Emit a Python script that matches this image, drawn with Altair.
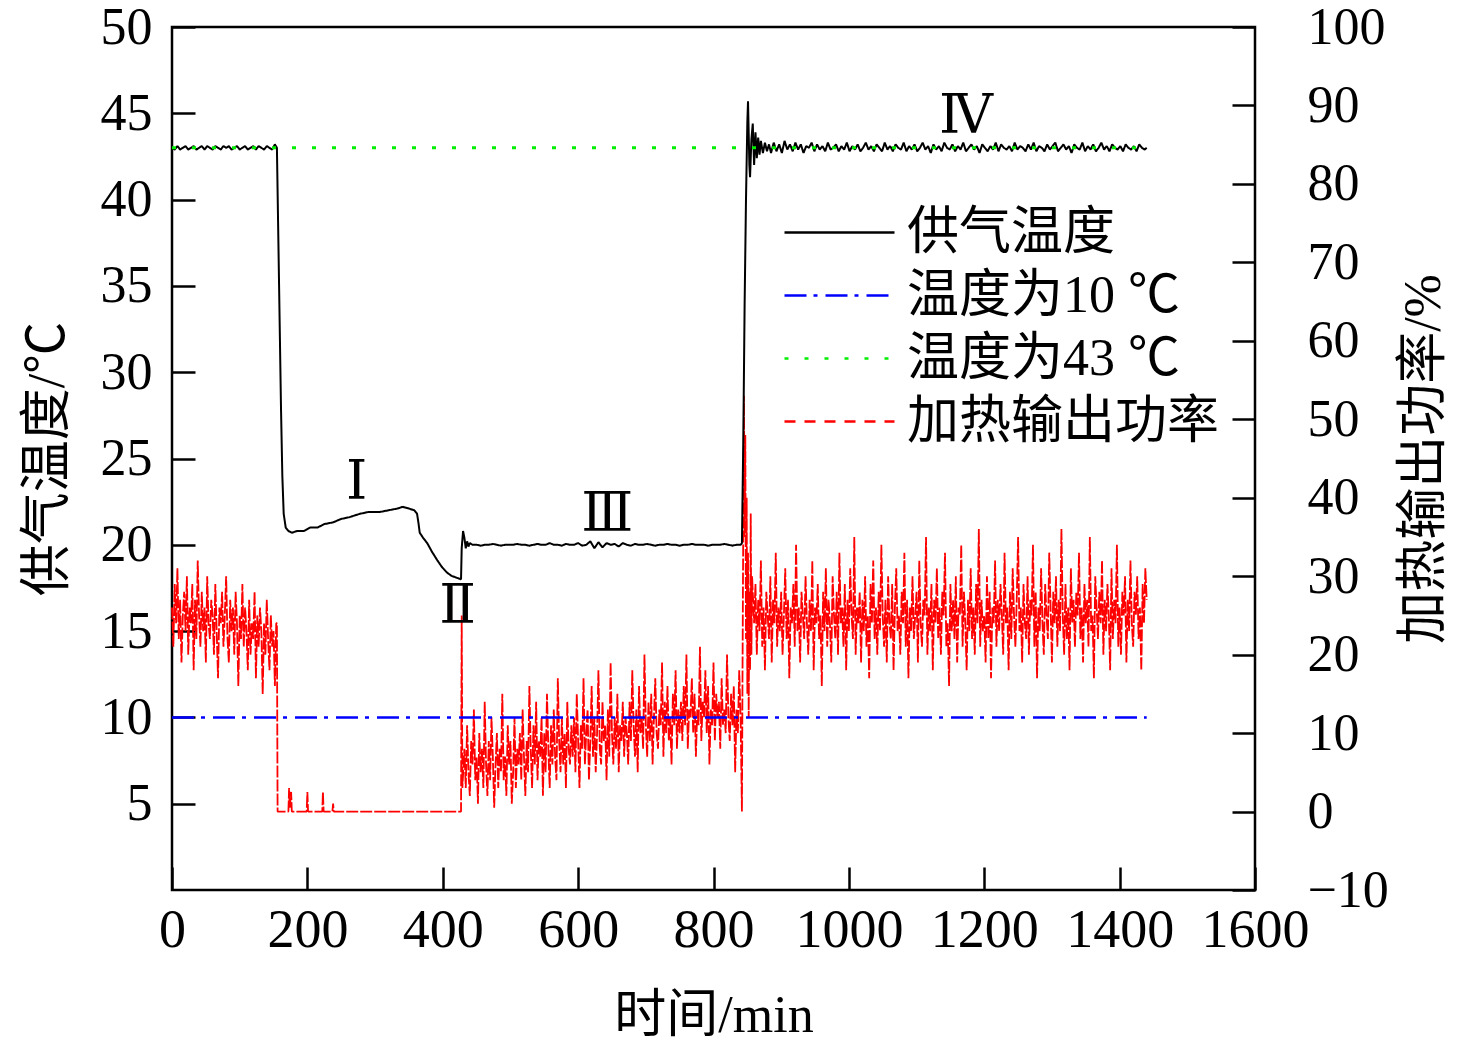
import altair as alt
import pandas as pd

FONT = "Liberation Serif, Noto Sans CJK SC"
ROMAN_FONT = "Liberation Serif, DejaVu Serif"

series_names = ["供气温度", "温度为10 ℃", "温度为43 ℃", "加热输出功率"]
series_colors = ["#000000", "#0000ff", "#00ee00", "#ff0000"]
legend_dashes = [[1, 0], [22, 7, 4, 8], [4, 16], [11, 9]]

x_ticks = [0, 200, 400, 600, 800, 1000, 1200, 1400, 1600]
left_ticks = [5, 10, 15, 20, 25, 30, 35, 40, 45, 50]
right_ticks = [-10, 0, 10, 20, 30, 40, 50, 60, 70, 80, 90, 100]

# ---------------- supply air temperature (left axis, °C) ----------------
temp_a_times = list(range(0, 153, 4))
temp_a = [43.0, 42.9, 43.1, 42.9, 43.0, 43.1, 42.9, 43.0, 43.1, 42.9,
          43.0, 43.1, 42.9, 43.1, 43.0, 42.9, 43.1, 43.0, 42.9, 43.1,
          43.0, 43.1, 42.9, 43.0, 43.1, 42.9, 43.0, 43.1, 42.9, 43.0,
          43.1, 42.9, 43.1, 43.0, 42.9, 43.1, 43.0, 42.9, 43.2]

temp_b_times = [155, 157, 159, 161, 163, 165, 168, 172, 177, 185, 195, 204, 215,
                225, 238, 250, 262, 278, 290, 307, 320, 333, 341, 350, 358, 362,
                364, 366, 371, 377, 384, 392, 399, 406, 413, 420, 427, 428, 430,
                432, 434, 436, 438, 440]
temp_b = [43.0, 38.0, 33.0, 28.0, 24.0, 21.8, 21.0, 20.8, 20.7, 20.8, 20.8, 21.0, 21.0,
          21.2, 21.3, 21.5, 21.6, 21.8, 21.9, 21.9, 22.0, 22.1, 22.2, 22.1, 22.0, 21.8,
          21.3, 20.7, 20.4, 20.1, 19.6, 19.1, 18.7, 18.4, 18.2, 18.1, 18.0, 19.8, 20.8,
          20.4, 19.8, 20.2, 19.9, 20.1]

temp_c_times = list(range(444, 841, 6))
temp_c = [20.0, 20.0, 19.95, 20.0, 20.0, 20.05, 20.0, 19.95, 20.0, 20.0,
          20.0, 20.05, 20.0, 20.0, 19.95, 20.0, 20.05, 20.0, 20.0, 20.1,
          20.0, 20.0, 19.95, 20.05, 20.0, 20.0, 20.1, 19.95, 20.0, 20.2,
          19.8, 20.15, 19.85, 20.1, 20.0, 20.05, 19.9, 20.1, 20.0, 19.95,
          20.05, 20.0, 20.0, 20.05, 20.0, 19.95, 20.0, 20.0, 20.05, 20.0,
          20.0, 19.95, 20.0, 20.0, 20.05, 20.0, 20.0, 20.0, 19.95, 20.0,
          20.0, 20.0, 20.05, 20.0, 19.95, 20.0, 20.0]

temp_d_times = [842, 844, 846, 848, 850, 851, 853, 854, 856, 858, 860, 862, 864,
                866, 868, 870, 873, 876, 879, 882]
temp_d = [20.1, 26.0, 34.0, 40.0, 44.5, 45.7, 42.0, 41.3, 43.5, 44.4, 42.0, 43.9, 42.4,
          43.6, 42.6, 43.4, 42.7, 43.3, 42.8, 43.2]

temp_e_times = list(range(885, 1438, 4)) + [1440]
temp_e = [42.7, 43.3, 42.8, 43.2, 42.7, 43.4, 42.9, 43.2, 42.8, 43.3,
          42.9, 43.2, 42.7, 43.1, 43.0, 43.3, 42.8, 43.2, 42.9, 43.1,
          42.8, 43.3, 42.9, 43.0, 43.2, 42.8, 43.1, 42.9, 43.3, 42.8,
          43.1, 42.9, 43.2, 42.8, 43.0, 43.3, 42.9, 43.1, 42.8, 43.2,
          43.0, 42.8, 43.3, 42.9, 43.1, 42.8, 43.2, 43.0, 42.9, 43.3,
          42.8, 43.1, 42.9, 43.2, 42.8, 43.0, 43.3, 42.9, 43.1, 42.7,
          43.2, 42.9, 43.1, 42.8, 43.3, 43.0, 42.9, 43.2, 42.8, 43.1,
          42.9, 43.3, 42.8, 43.0, 43.2, 42.9, 43.1, 42.7, 43.2, 43.0,
          42.8, 43.1, 42.9, 43.3, 42.8, 43.2, 43.0, 42.9, 43.1, 42.8,
          43.3, 42.9, 43.1, 43.0, 42.8, 43.2, 42.9, 43.3, 42.8, 43.1,
          43.0, 42.8, 43.2, 42.9, 43.1, 43.3, 42.8, 43.0, 43.2, 42.9,
          43.1, 42.7, 43.2, 43.0, 42.9, 43.3, 42.8, 43.1, 42.9, 43.2,
          42.8, 43.0, 43.3, 42.9, 43.1, 42.8, 43.2, 43.0, 42.9, 43.1,
          42.8, 43.2, 43.0, 42.9, 43.1, 42.8, 43.2, 43.0, 42.9, 43.0]

# ---------------- heating output power (right axis, %) ----------------
power_a_times = list(range(0, 155, 2))
power_a = [26, 21, 29, 24, 31, 22, 27, 19, 25, 28, 23, 30, 20, 26, 24, 29, 18, 27, 22, 32,
           25, 21, 28, 23, 26, 19, 30, 24, 22, 27, 25, 20, 29, 23, 17, 26, 24, 28, 21, 25,
           30, 22, 19, 27, 23, 26, 20, 28, 24, 16, 25, 22, 29, 21, 26, 23, 18, 27, 20, 24,
           22, 28, 17, 25, 21, 26, 23, 15, 24, 20, 27, 22, 18, 25, 21, 23, 16, 24]

power_b_times = [155, 156, 172, 173, 174, 176, 177, 199, 200, 201, 222, 223, 224,
                 237, 238, 239, 427, 428, 429]
power_b = [24, 0, 0, 3, 0.5, 2.5, 0, 0, 2.5, 0, 0, 2.5, 0,
           0, 1, 0, 0, 25, 3]

power_c_times = list(range(432, 841, 2))
power_c = [8, 3, 11, 5, 2, 9, 6, 13, 4, 7, 1, 10, 5, 8, 3, 14, 6, 2, 9, 4,
           12, 7, 0.5, 6, 10, 3, 8, 5, 15, 4, 7, 2, 11, 6, 9, 1, 5, 12, 3, 8,
           6, 10, 4, 13, 7, 2, 9, 5, 16, 8, 3, 11, 6, 14, 4, 9, 7, 12, 2, 10,
           5, 15, 8, 3, 11, 6, 13, 7, 4, 17, 9, 5, 12, 6, 10, 3, 14, 8, 6, 11,
           7, 12, 5, 15, 9, 3, 11, 8, 17, 6, 10, 13, 4, 9, 16, 7, 12, 5, 10, 18,
           8, 6, 14, 9, 11, 4, 13, 7, 19, 10, 6, 12, 8, 15, 5, 11, 9, 14, 7, 12,
           10, 6, 14, 9, 18, 11, 7, 13, 5, 16, 10, 12, 8, 20, 11, 7, 14, 9, 15, 6,
           12, 17, 10, 8, 13, 11, 19, 7, 14, 10, 16, 9, 12, 6, 15, 11, 18, 8, 13, 10,
           14, 9, 16, 11, 20, 8, 13, 12, 17, 10, 15, 7, 13, 11, 21, 9, 14, 12, 18, 10,
           16, 6, 13, 11, 19, 9, 15, 12, 14, 8, 17, 11, 13, 10, 20, 12, 9, 15, 11, 16,
           5, 13, 10, 18, 12]

power_d_times = [842, 843, 845, 846, 847, 848, 849, 850, 851, 852, 853, 854, 855, 856, 857]
power_d = [0, 20, 53, 35, 48, 22, 40, 15, 33, 12, 28, 18, 38, 20, 30]

power_e_times = list(range(860, 1441, 2))
power_e = [24, 29, 20, 27, 23, 32, 21, 26, 18, 28, 25, 22, 30, 19, 27, 24, 33, 21, 26, 23,
           28, 20, 25, 31, 22, 27, 17, 26, 24, 29, 21, 34, 23, 26, 19, 28, 25, 22, 30, 24,
           20, 27, 23, 32, 18, 26, 24, 29, 22, 25, 16, 28, 23, 31, 21, 27, 24, 19, 30, 25,
           22, 28, 20, 33, 24, 26, 21, 29, 18, 27, 23, 31, 25, 22, 35, 20, 26, 24, 28, 19,
           27, 23, 30, 21, 25, 17, 29, 24, 32, 22, 26, 20, 28, 23, 34, 25, 21, 27, 19, 30,
           24, 22, 29, 18, 26, 31, 23, 25, 20, 28, 24, 33, 21, 27, 17, 26, 23, 30, 22, 25,
           28, 19, 32, 24, 21, 27, 25, 35, 20, 26, 23, 29, 18, 27, 24, 31, 22, 26, 20, 28,
           25, 33, 21, 24, 16, 29, 23, 27, 22, 30, 19, 26, 25, 34, 21, 28, 24, 18, 27, 23,
           31, 22, 26, 20, 29, 24, 36, 21, 27, 23, 25, 19, 30, 22, 28, 17, 26, 24, 32, 21,
           27, 23, 29, 25, 20, 33, 24, 26, 18, 28, 22, 31, 25, 21, 27, 35, 23, 26, 19, 29,
           24, 22, 30, 20, 27, 25, 34, 21, 28, 17, 26, 23, 31, 24, 20, 29, 25, 22, 33, 26,
           19, 28, 24, 30, 21, 27, 23, 36, 25, 20, 29, 22, 26, 18, 31, 24, 27, 21, 28, 25,
           33, 22, 26, 19, 29, 24, 27, 21, 35, 23, 25, 17, 30, 26, 22, 28, 24, 32, 20, 27,
           23, 29, 25, 18, 31, 22, 27, 24, 34, 21, 26, 20, 28, 25, 30, 19, 27, 23, 32, 24,
           21, 28, 25, 30, 22, 26, 18, 29, 24, 31, 27]

# reference lines
ref_times = [0, 1440]
ref10 = [10, 10]
ref43 = [43, 43]

# stage labels
stage_labels = ["Ⅰ", "Ⅱ", "Ⅲ", "Ⅳ"]
stage_t = [273, 422, 643, 1173]
stage_v = [23.6, 16.4, 21.7, 44.8]


def pairs(times, vals):
    n = min(len(times), len(vals))
    return list(zip(times[:n], vals[:n]))


temp_pts = (pairs(temp_a_times, temp_a) + pairs(temp_b_times, temp_b) +
            pairs(temp_c_times, temp_c) + pairs(temp_d_times, temp_d) +
            pairs(temp_e_times, temp_e))
power_pts = (pairs(power_a_times, power_a) + pairs(power_b_times, power_b) +
             pairs(power_c_times, power_c) + pairs(power_d_times, power_d) +
             pairs(power_e_times, power_e))

df_temp = pd.DataFrame(temp_pts, columns=["t", "v"])
df_temp["series"] = series_names[0]
df_10 = pd.DataFrame({"t": ref_times, "v": ref10, "series": series_names[1]})
df_43 = pd.DataFrame({"t": ref_times, "v": ref43, "series": series_names[2]})
df_pow = pd.DataFrame(power_pts, columns=["t", "p"])
df_pow["series"] = series_names[3]
df_stage = pd.DataFrame({"t": stage_t, "v": stage_v, "s": stage_labels})

legend_def = alt.Legend(
    title=None, orient="none", legendX=611, legendY=174,
    symbolType="stroke", symbolSize=12100, symbolStrokeWidth=2.5,
    labelFont=FONT, labelFontSize=52, labelColor="black", labelOffset=11,
    labelLimit=600, clipHeight=63, rowPadding=0, padding=0,
)


def color_enc():
    return alt.Color("series:N", scale=alt.Scale(domain=series_names, range=series_colors),
                     legend=legend_def)


def dash_enc():
    return alt.StrokeDash("series:N", scale=alt.Scale(domain=series_names, range=legend_dashes),
                          legend=legend_def)


x_axis = alt.Axis(
    values=x_ticks, format="d", title="时间/min", orient="bottom", offset=-23, tickSize=23,
    tickWidth=2.5, tickColor="black", domain=False, grid=False,
    labelFont=FONT, labelFontSize=54, labelColor="black", labelPadding=13,
    labelFlush=False, labelOverlap=False,
    titleFont=FONT, titleFontSize=52, titleFontWeight="normal", titleColor="black",
    titlePadding=33,
)
x_scale = alt.Scale(domain=[0, 1600], nice=False, zero=False)


def x_enc():
    return alt.X("t:Q", scale=x_scale, axis=x_axis)


left_axis = alt.Axis(
    values=left_ticks, title="供气温度/℃", orient="left", offset=-23, tickSize=23,
    tickWidth=2.5, tickColor="black", domain=False, grid=False,
    labelFont=FONT, labelFontSize=52, labelColor="black", labelPadding=20,
    labelFlush=False, labelOverlap=False,
    titleFont=FONT, titleFontSize=52, titleFontWeight="normal", titleColor="black",
    titlePadding=26,
)
left_scale = alt.Scale(domain=[0, 50], nice=False, zero=False)

right_axis = alt.Axis(
    values=right_ticks, title="加热输出功率/%", orient="right", offset=-23, tickSize=23,
    tickWidth=2.5, tickColor="black", domain=False, grid=False,
    labelFont=FONT, labelFontSize=52, labelColor="black", labelPadding=52,
    labelFlush=False, labelOverlap=False,
    titleFont=FONT, titleFontSize=52, titleFontWeight="normal", titleColor="black",
    titlePadding=10, titleAngle=270, titleBaseline="top",
)
right_scale = alt.Scale(domain=[-10, 100], nice=False, zero=False)

temp_line = alt.Chart(df_temp).mark_line(strokeWidth=2, strokeJoin="bevel").encode(
    x=x_enc(), y=alt.Y("v:Q", scale=left_scale, axis=left_axis),
    color=color_enc(), strokeDash=dash_enc(),
)
line10 = alt.Chart(df_10).mark_line(strokeWidth=2.5).encode(
    x=x_enc(), y=alt.Y("v:Q", scale=left_scale, axis=left_axis),
    color=color_enc(), strokeDash=dash_enc(),
)
line43 = alt.Chart(df_43).mark_line(strokeWidth=3).encode(
    x=x_enc(), y=alt.Y("v:Q", scale=left_scale, axis=left_axis),
    color=color_enc(), strokeDash=dash_enc(),
)
stage_text = alt.Chart(df_stage).mark_text(
    font=ROMAN_FONT, fontSize=54, align="center", baseline="middle", color="black"
).encode(
    x=x_enc(), y=alt.Y("v:Q", scale=left_scale, axis=left_axis), text="s:N",
)

power_line = alt.Chart(df_pow).mark_line(
    strokeWidth=1.8, strokeJoin="bevel", strokeDash=[12, 2]
).encode(
    x=x_enc(), y=alt.Y("p:Q", scale=right_scale, axis=right_axis),
    color=color_enc(),
)

left_layer = alt.layer(temp_line, line10, line43, stage_text)
right_layer = alt.layer(power_line)

chart = alt.layer(right_layer, left_layer).resolve_scale(y="independent").properties(
    width=1083, height=863, autosize="none",
    padding={"left": 164, "top": 19, "right": 200, "bottom": 156},
    background="white",
).configure_view(stroke="black", strokeWidth=2.5)

chart.save("out.html", embed_options={"renderer": "svg", "actions": False})
